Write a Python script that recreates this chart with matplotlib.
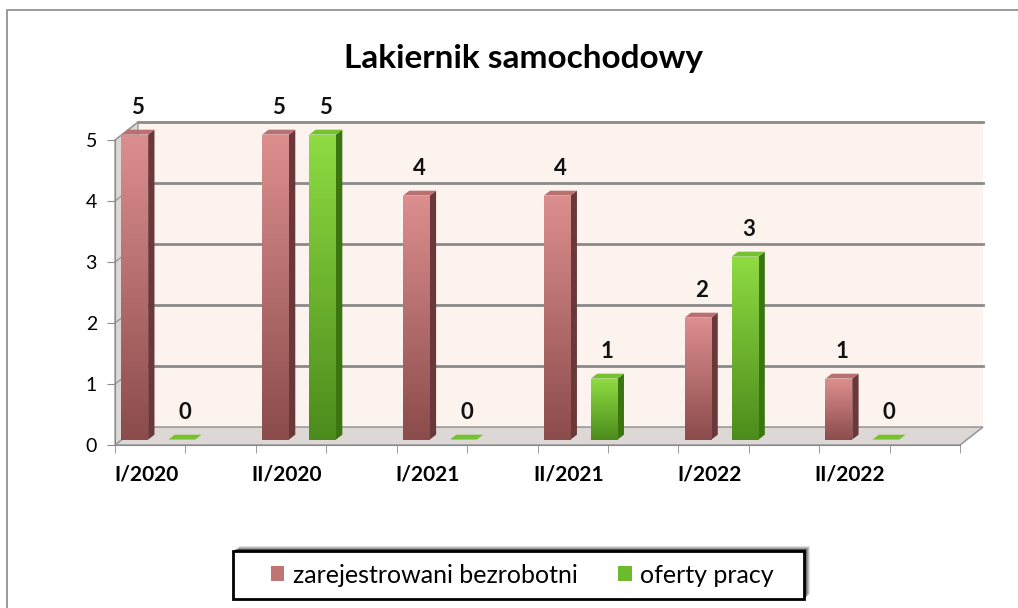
import numpy as np
import matplotlib.pyplot as plt
import matplotlib.colors as mcolors
from matplotlib.patches import Polygon, Rectangle, Patch

plt.rcParams['font.family'] = ['Lato', 'DejaVu Sans']

# data
categories = ['I/2020', 'II/2020', 'I/2021', 'II/2021', 'I/2022', 'II/2022']
bezrobotni = [5, 5, 4, 4, 2, 1]
oferty = [0, 5, 0, 1, 3, 0]
series_names = ['zarejestrowani bezrobotni', 'oferty pracy']
title = 'Lakiernik samochodowy'

W, H = 1018, 608
fig = plt.figure(figsize=(W / 100, H / 100), dpi=100)
ymax = 5.6
ax = fig.add_axes([0.113, 0.268, 0.830, ymax * 61 / H])
x0, x1 = -0.25, 5.75
ax.set_xlim(x0, x1)
ax.set_ylim(0, ymax)

# pseudo 3d depth (data units)
wall_dx, wall_dy = 0.163, 0.295
bar_sx, bar_sy = 0.057, 0.09
bar_dx, bar_dy = 0.045, 0.08
bw = 0.19
off = 0.167

# walls / floor
wall_col = '#fdf3ee'
ax.add_patch(Polygon([(x0 + wall_dx, wall_dy), (x1 + wall_dx, wall_dy),
                      (x1 + wall_dx, 5 + wall_dy), (x0 + wall_dx, 5 + wall_dy)],
                     closed=True, facecolor=wall_col, edgecolor='none',
                     clip_on=False, zorder=0))
ax.add_patch(Polygon([(x0, 0), (x0 + wall_dx, wall_dy), (x0 + wall_dx, 5 + wall_dy), (x0, 5)],
                     closed=True, facecolor='#dcd8d6', edgecolor='#9a9a9a', lw=1,
                     clip_on=False, zorder=1))
ax.add_patch(Polygon([(x0, 0), (x1, 0), (x1 + wall_dx, wall_dy), (x0 + wall_dx, wall_dy)],
                     closed=True, facecolor='#ddd8d6', edgecolor='#9a9a9a', lw=1.2,
                     clip_on=False, zorder=1))
for k in range(1, 6):
    ax.plot([x0 + wall_dx, x1 + wall_dx], [k + wall_dy, k + wall_dy], color='#8a8a8a',
            lw=2, clip_on=False, zorder=1)
    ax.plot([x0, x0 + wall_dx], [k, k + wall_dy], color='#9a9a9a', lw=1, clip_on=False, zorder=1)

xs = np.arange(len(categories))
grad = np.linspace(0, 1, 100).reshape(-1, 1)


def draw_bars(pos, vals, dark, light, side, top):
    cmap = mcolors.LinearSegmentedColormap.from_list('g', [dark, light])
    bars = ax.bar(pos + bar_sx, vals, bw, bottom=bar_sy, color=light, zorder=3)
    for b, v in zip(bars, vals):
        l, r = b.get_x(), b.get_x() + b.get_width()
        b0, b1 = bar_sy, bar_sy + v
        if v > 0:
            im = ax.imshow(grad, extent=(l, r, b0, b1), origin='lower', cmap=cmap,
                           aspect='auto', zorder=3.1)
            im.set_clip_path(b)
            ax.add_patch(Polygon([(r, b0), (r + bar_dx, b0 + bar_dy), (r + bar_dx, b1 + bar_dy), (r, b1)],
                                 closed=True, facecolor=side, edgecolor='none', zorder=3))
        ax.add_patch(Polygon([(l, b1), (r, b1), (r + bar_dx, b1 + bar_dy), (l + bar_dx, b1 + bar_dy)],
                             closed=True, facecolor=top, edgecolor='none', zorder=3.2))
        ax.text((l + r) / 2 + bar_dx / 2, b1 + 0.45, str(v), ha='center', va='center',
                fontsize=16, fontweight='bold', color='#111111', clip_on=False)


draw_bars(xs - off, bezrobotni, '#8c4c4c', '#dc8e8e', '#6a3838', '#b87070')
draw_bars(xs + off, oferty, '#4c8c1c', '#8edb42', '#3a7510', '#74c230')

ax.set_xlim(x0, x1)
ax.set_ylim(0, ymax)

ax.set_xticks(xs - 0.03)
ax.set_xticklabels(categories, fontsize=15, fontweight='bold')
ax.set_xticks(np.arange(x0, x1 + 0.01, 0.5), minor=True)
ax.tick_params(axis='x', which='major', length=0, pad=14)
ax.tick_params(axis='x', which='minor', length=6, color='#8a8a8a')
ax.set_yticks(range(6))
ax.tick_params(axis='y', labelsize=14, length=6, color='#8a8a8a', pad=7)
for s in ['top', 'right']:
    ax.spines[s].set_visible(False)
for s in ['left', 'bottom']:
    ax.spines[s].set_color('#8a8a8a')
    ax.spines[s].set_zorder(2)
ax.spines['left'].set_bounds(0, 5)
ax.patch.set_alpha(0)

fig.text(0.514, 0.904, title, ha='center', va='center', fontsize=24, fontweight='bold')

# legend box with soft shadow (up and to the right)
bx, by, bwid, bht = 233, 9, 571, 48
for i, a in zip(range(6, 0, -1), [0.12, 0.15, 0.2, 0.25, 0.3, 0.35]):
    fig.add_artist(Rectangle(((bx + i) / W, (by + i * 0.8) / H), bwid / W, bht / H,
                             transform=fig.transFigure, facecolor='black', edgecolor='none',
                             alpha=a, zorder=4))
fig.add_artist(Rectangle((bx / W, by / H), bwid / W, bht / H, transform=fig.transFigure,
                         facecolor='white', edgecolor='black', lw=2, zorder=5))
handles = [Patch(facecolor='#c07474'), Patch(facecolor='#6cbb2c')]
leg = fig.legend(handles, series_names, loc='center', bbox_to_anchor=(0.513, 0.054), ncol=2,
                 fontsize=18, frameon=False, handlelength=0.55, handleheight=0.55,
                 handletextpad=0.35, columnspacing=1.6)
leg.set_zorder(6)

fig.add_artist(Rectangle((7 / W, -0.05), 1.1, 1 - 10 / H + 0.05, transform=fig.transFigure,
                         facecolor='none', edgecolor='#8a8a8a', lw=1.2))

fig.savefig('out.png', dpi=100)
